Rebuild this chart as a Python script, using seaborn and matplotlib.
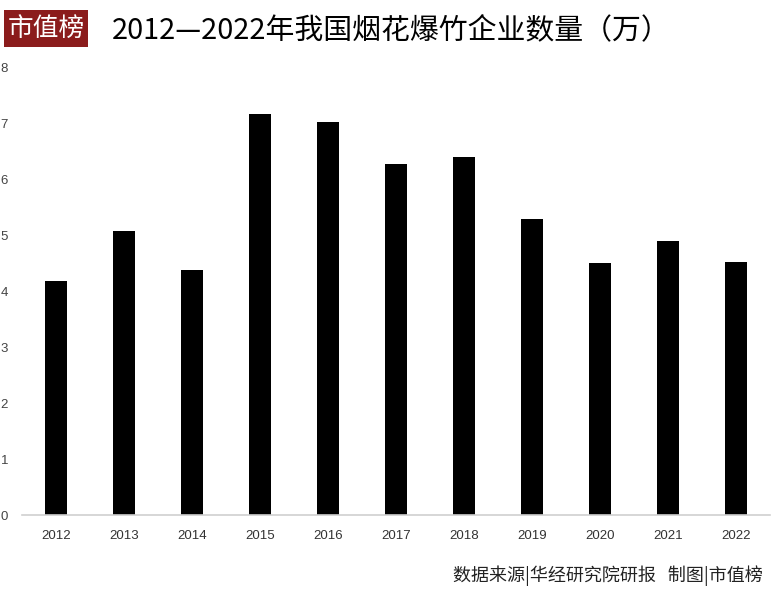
import matplotlib
matplotlib.use("Agg")
import matplotlib.pyplot as plt
import seaborn as sns
import pandas as pd
from matplotlib.patches import Rectangle

years = ["2012", "2013", "2014", "2015", "2016", "2017", "2018", "2019", "2020", "2021", "2022"]
counts = [4.19, 5.08, 4.38, 7.17, 7.03, 6.28, 6.40, 5.30, 4.51, 4.90, 4.53]
yticks = [0, 1, 2, 3, 4, 5, 6, 7, 8]

title_text = "2012—2022年我国烟花爆竹企业数量（万）"
logo_text = "市值榜"
source_text = "数据来源|华经研究院研报   制图|市值榜"

sns.set_theme(style="white")
plt.rcParams['font.family'] = ['Noto Sans CJK SC', 'DejaVu Sans']

df = pd.DataFrame({"year": years, "count": counts})

fig = plt.figure(figsize=(7.8, 5.92), dpi=100)
ax = fig.add_axes([22/780, 1 - 515/592, (770-22)/780, (515-68)/592])

sns.barplot(data=df, x="year", y="count", color="black", width=0.32,
            saturation=1, ax=ax, edgecolor="none")

ax.set_ylim(0, 8)
ax.set_xlim(-0.5, len(years) - 0.5)
ax.set_yticks(yticks)
ax.set_yticklabels([str(t) for t in yticks], fontsize=9.5, color="#444444",
                   family=['Liberation Sans', 'DejaVu Sans'])
ax.set_xticklabels(years, fontsize=9.5, color="#333333",
                   family=['Liberation Sans', 'DejaVu Sans'])
ax.tick_params(axis='y', length=0, pad=10)
ax.tick_params(axis='x', length=0, pad=11)
ax.set_xlabel("")
ax.set_ylabel("")
for s in ["top", "right", "left"]:
    ax.spines[s].set_visible(False)
ax.spines["bottom"].set_color("#d0d0d0")
ax.spines["bottom"].set_linewidth(1.2)
ax.grid(False)

# logo
fig.patches.append(Rectangle((4/780, 1 - 47/592), 84/780, 37/592,
                             transform=fig.transFigure, facecolor="#8b1c1c",
                             edgecolor="none"))
fig.text(46/780, 1 - 29/592, logo_text, color="white", fontsize=18.5,
         ha="center", va="center", fontweight="medium")

fig.text(112/780, 1 - 30/592, title_text, color="black", fontsize=20.8,
         ha="left", va="center", fontweight="medium")

fig.text(763/780, 1 - 576/592, source_text, color="#222222", fontsize=13,
         ha="right", va="center")

fig.savefig("out.png", dpi=100)
